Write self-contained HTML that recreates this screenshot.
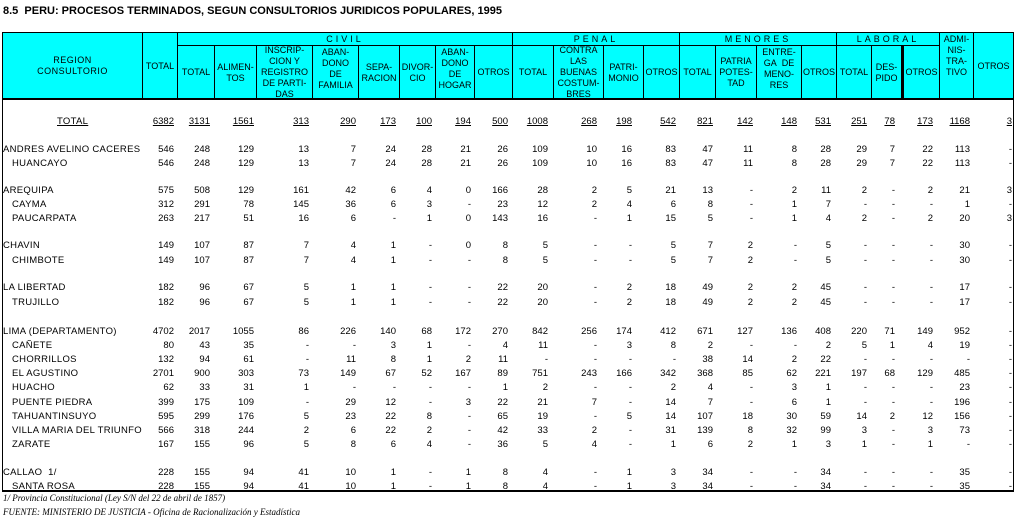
<!DOCTYPE html>
<html><head><meta charset="utf-8"><style>
*{margin:0;padding:0;box-sizing:border-box}
body{width:1014px;height:518px;background:#fff;position:relative;overflow:hidden;font-family:"Liberation Sans",sans-serif;font-size:9.5px;color:#000}
.t{position:absolute;left:3px;top:5px;font-weight:bold;font-size:11px}
.h{position:absolute;background:#0ff;border:1px solid #000;display:flex;align-items:center;justify-content:center;text-align:center;line-height:11px;font-size:9px;letter-spacing:0;white-space:nowrap}
.r{position:absolute;left:0;width:1014px;height:12px;line-height:12px}
.r b{position:absolute;left:3px;font-weight:normal;letter-spacing:.3px}
.r.s b{left:12px}
.g{position:absolute;left:140px;display:grid;grid-template-columns:34px 36px 44px 55px 47px 40px 36px 39px 37px 40px 49px 35px 44px 37px 40px 44px 34px 36px 28px 38px 37px 42px}
.g i{font-style:normal;text-align:right}
.u i,.u b{text-decoration:underline}
.f{position:absolute;left:3px;font-family:"Liberation Serif",serif;font-style:italic;font-size:9px}
</style></head><body>
<div class="t">8.5&nbsp; PERU: PROCESOS TERMINADOS, SEGUN CONSULTORIOS JURIDICOS POPULARES, 1995</div>
<div style="position:absolute;left:2px;top:32px;width:1012px;height:460px;border:1px solid #000;border-top:2px solid #000;border-bottom:2px solid #000"></div>
<div class="h" style="left:2px;top:32px;width:141px;height:68px;letter-spacing:.5px">REGION<br>CONSULTORIO</div>
<div class="h" style="left:142px;top:32px;width:36px;height:68px">TOTAL</div>
<div class="h" style="left:177px;top:32px;width:336px;height:14px;letter-spacing:3px">CIVIL</div>
<div class="h" style="left:512px;top:32px;width:168px;height:14px;letter-spacing:3px">PENAL</div>
<div class="h" style="left:679px;top:32px;width:158px;height:14px;letter-spacing:3px">MENORES</div>
<div class="h" style="left:836px;top:32px;width:104px;height:14px;letter-spacing:3px">LABORAL</div>
<div class="h" style="left:939px;top:32px;width:35px;height:68px;align-items:flex-start;padding-top:1px">ADMI-<br>NIS-<br>TRA-<br>TIVO</div>
<div class="h" style="left:973px;top:32px;width:41px;height:68px">OTROS</div>
<div class="h" style="left:177px;top:45px;width:38px;height:55px">TOTAL</div>
<div class="h" style="left:214px;top:45px;width:43px;height:55px">ALIMEN-<br>TOS</div>
<div class="h" style="left:256px;top:45px;width:57px;height:55px">INSCRIP-<br>CION Y<br>REGISTRO<br>DE PARTI-<br>DAS</div>
<div class="h" style="left:312px;top:45px;width:47px;height:55px;align-items:flex-start;padding-top:1px">ABAN-<br>DONO<br>DE<br>FAMILIA</div>
<div class="h" style="left:358px;top:45px;width:42px;height:55px">SEPA-<br>RACION</div>
<div class="h" style="left:399px;top:45px;width:37px;height:55px">DIVOR-<br>CIO</div>
<div class="h" style="left:435px;top:45px;width:40px;height:55px;align-items:flex-start;padding-top:1px">ABAN-<br>DONO<br>DE<br>HOGAR</div>
<div class="h" style="left:474px;top:45px;width:39px;height:55px">OTROS</div>
<div class="h" style="left:512px;top:45px;width:42px;height:55px">TOTAL</div>
<div class="h" style="left:553px;top:45px;width:51px;height:55px">CONTRA<br>LAS<br>BUENAS<br>COSTUM-<br>BRES</div>
<div class="h" style="left:603px;top:45px;width:41px;height:55px">PATRI-<br>MONIO</div>
<div class="h" style="left:643px;top:45px;width:37px;height:55px">OTROS</div>
<div class="h" style="left:679px;top:45px;width:37px;height:55px">TOTAL</div>
<div class="h" style="left:715px;top:45px;width:42px;height:55px">PATRIA<br>POTES-<br>TAD</div>
<div class="h" style="left:756px;top:45px;width:46px;height:55px;align-items:flex-start;padding-top:1px">ENTRE-<br>GA&nbsp;&nbsp;DE<br>MENO-<br>RES</div>
<div class="h" style="left:801px;top:45px;width:36px;height:55px">OTROS</div>
<div class="h" style="left:836px;top:45px;width:36px;height:55px">TOTAL</div>
<div class="h" style="left:871px;top:45px;width:33px;height:55px;border-right:3px solid #000">DES-<br>PIDO</div>
<div class="h" style="left:903px;top:45px;width:37px;height:55px">OTROS</div>
<div style="position:absolute;left:2px;top:98px;width:1012px;height:2px;background:#000"></div>

<div class="r u" style="top:116px"><b style="left:57px">TOTAL</b><div class="g"><i>6382</i><i>3131</i><i>1561</i><i>313</i><i>290</i><i>173</i><i>100</i><i>194</i><i>500</i><i>1008</i><i>268</i><i>198</i><i>542</i><i>821</i><i>142</i><i>148</i><i>531</i><i>251</i><i>78</i><i>173</i><i>1168</i><i>3</i></div></div>
<div class="r" style="top:144px"><b>ANDRES AVELINO CACERES</b><div class="g"><i>546</i><i>248</i><i>129</i><i>13</i><i>7</i><i>24</i><i>28</i><i>21</i><i>26</i><i>109</i><i>10</i><i>16</i><i>83</i><i>47</i><i>11</i><i>8</i><i>28</i><i>29</i><i>7</i><i>22</i><i>113</i><i>-</i></div></div>
<div class="r s" style="top:158px"><b>HUANCAYO</b><div class="g"><i>546</i><i>248</i><i>129</i><i>13</i><i>7</i><i>24</i><i>28</i><i>21</i><i>26</i><i>109</i><i>10</i><i>16</i><i>83</i><i>47</i><i>11</i><i>8</i><i>28</i><i>29</i><i>7</i><i>22</i><i>113</i><i>-</i></div></div>
<div class="r" style="top:185px"><b>AREQUIPA</b><div class="g"><i>575</i><i>508</i><i>129</i><i>161</i><i>42</i><i>6</i><i>4</i><i>0</i><i>166</i><i>28</i><i>2</i><i>5</i><i>21</i><i>13</i><i>-</i><i>2</i><i>11</i><i>2</i><i>-</i><i>2</i><i>21</i><i>3</i></div></div>
<div class="r s" style="top:199px"><b>CAYMA</b><div class="g"><i>312</i><i>291</i><i>78</i><i>145</i><i>36</i><i>6</i><i>3</i><i>-</i><i>23</i><i>12</i><i>2</i><i>4</i><i>6</i><i>8</i><i>-</i><i>1</i><i>7</i><i>-</i><i>-</i><i>-</i><i>1</i><i>-</i></div></div>
<div class="r s" style="top:213px"><b>PAUCARPATA</b><div class="g"><i>263</i><i>217</i><i>51</i><i>16</i><i>6</i><i>-</i><i>1</i><i>0</i><i>143</i><i>16</i><i>-</i><i>1</i><i>15</i><i>5</i><i>-</i><i>1</i><i>4</i><i>2</i><i>-</i><i>2</i><i>20</i><i>3</i></div></div>
<div class="r" style="top:240px"><b>CHAVIN</b><div class="g"><i>149</i><i>107</i><i>87</i><i>7</i><i>4</i><i>1</i><i>-</i><i>0</i><i>8</i><i>5</i><i>-</i><i>-</i><i>5</i><i>7</i><i>2</i><i>-</i><i>5</i><i>-</i><i>-</i><i>-</i><i>30</i><i>-</i></div></div>
<div class="r s" style="top:255px"><b>CHIMBOTE</b><div class="g"><i>149</i><i>107</i><i>87</i><i>7</i><i>4</i><i>1</i><i>-</i><i>-</i><i>8</i><i>5</i><i>-</i><i>-</i><i>5</i><i>7</i><i>2</i><i>-</i><i>5</i><i>-</i><i>-</i><i>-</i><i>30</i><i>-</i></div></div>
<div class="r" style="top:282px"><b>LA LIBERTAD</b><div class="g"><i>182</i><i>96</i><i>67</i><i>5</i><i>1</i><i>1</i><i>-</i><i>-</i><i>22</i><i>20</i><i>-</i><i>2</i><i>18</i><i>49</i><i>2</i><i>2</i><i>45</i><i>-</i><i>-</i><i>-</i><i>17</i><i>-</i></div></div>
<div class="r s" style="top:297px"><b>TRUJILLO</b><div class="g"><i>182</i><i>96</i><i>67</i><i>5</i><i>1</i><i>1</i><i>-</i><i>-</i><i>22</i><i>20</i><i>-</i><i>2</i><i>18</i><i>49</i><i>2</i><i>2</i><i>45</i><i>-</i><i>-</i><i>-</i><i>17</i><i>-</i></div></div>
<div class="r" style="top:326px"><b>LIMA (DEPARTAMENTO)</b><div class="g"><i>4702</i><i>2017</i><i>1055</i><i>86</i><i>226</i><i>140</i><i>68</i><i>172</i><i>270</i><i>842</i><i>256</i><i>174</i><i>412</i><i>671</i><i>127</i><i>136</i><i>408</i><i>220</i><i>71</i><i>149</i><i>952</i><i>-</i></div></div>
<div class="r s" style="top:340px"><b>CAÑETE</b><div class="g"><i>80</i><i>43</i><i>35</i><i>-</i><i>-</i><i>3</i><i>1</i><i>-</i><i>4</i><i>11</i><i>-</i><i>3</i><i>8</i><i>2</i><i>-</i><i>-</i><i>2</i><i>5</i><i>1</i><i>4</i><i>19</i><i>-</i></div></div>
<div class="r s" style="top:354px"><b>CHORRILLOS</b><div class="g"><i>132</i><i>94</i><i>61</i><i>-</i><i>11</i><i>8</i><i>1</i><i>2</i><i>11</i><i>-</i><i>-</i><i>-</i><i>-</i><i>38</i><i>14</i><i>2</i><i>22</i><i>-</i><i>-</i><i>-</i><i>-</i><i>-</i></div></div>
<div class="r s" style="top:368px"><b>EL AGUSTINO</b><div class="g"><i>2701</i><i>900</i><i>303</i><i>73</i><i>149</i><i>67</i><i>52</i><i>167</i><i>89</i><i>751</i><i>243</i><i>166</i><i>342</i><i>368</i><i>85</i><i>62</i><i>221</i><i>197</i><i>68</i><i>129</i><i>485</i><i>-</i></div></div>
<div class="r s" style="top:382px"><b>HUACHO</b><div class="g"><i>62</i><i>33</i><i>31</i><i>1</i><i>-</i><i>-</i><i>-</i><i>-</i><i>1</i><i>2</i><i>-</i><i>-</i><i>2</i><i>4</i><i>-</i><i>3</i><i>1</i><i>-</i><i>-</i><i>-</i><i>23</i><i>-</i></div></div>
<div class="r s" style="top:397px"><b>PUENTE PIEDRA</b><div class="g"><i>399</i><i>175</i><i>109</i><i>-</i><i>29</i><i>12</i><i>-</i><i>3</i><i>22</i><i>21</i><i>7</i><i>-</i><i>14</i><i>7</i><i>-</i><i>6</i><i>1</i><i>-</i><i>-</i><i>-</i><i>196</i><i>-</i></div></div>
<div class="r s" style="top:411px"><b>TAHUANTINSUYO</b><div class="g"><i>595</i><i>299</i><i>176</i><i>5</i><i>23</i><i>22</i><i>8</i><i>-</i><i>65</i><i>19</i><i>-</i><i>5</i><i>14</i><i>107</i><i>18</i><i>30</i><i>59</i><i>14</i><i>2</i><i>12</i><i>156</i><i>-</i></div></div>
<div class="r s" style="top:425px"><b>VILLA MARIA DEL TRIUNFO</b><div class="g"><i>566</i><i>318</i><i>244</i><i>2</i><i>6</i><i>22</i><i>2</i><i>-</i><i>42</i><i>33</i><i>2</i><i>-</i><i>31</i><i>139</i><i>8</i><i>32</i><i>99</i><i>3</i><i>-</i><i>3</i><i>73</i><i>-</i></div></div>
<div class="r s" style="top:439px"><b>ZARATE</b><div class="g"><i>167</i><i>155</i><i>96</i><i>5</i><i>8</i><i>6</i><i>4</i><i>-</i><i>36</i><i>5</i><i>4</i><i>-</i><i>1</i><i>6</i><i>2</i><i>1</i><i>3</i><i>1</i><i>-</i><i>1</i><i>-</i><i>-</i></div></div>
<div class="r" style="top:467px"><b>CALLAO&nbsp; 1/</b><div class="g"><i>228</i><i>155</i><i>94</i><i>41</i><i>10</i><i>1</i><i>-</i><i>1</i><i>8</i><i>4</i><i>-</i><i>1</i><i>3</i><i>34</i><i>-</i><i>-</i><i>34</i><i>-</i><i>-</i><i>-</i><i>35</i><i>-</i></div></div>
<div class="r s" style="top:481px"><b>SANTA ROSA</b><div class="g"><i>228</i><i>155</i><i>94</i><i>41</i><i>10</i><i>1</i><i>-</i><i>1</i><i>8</i><i>4</i><i>-</i><i>1</i><i>3</i><i>34</i><i>-</i><i>-</i><i>34</i><i>-</i><i>-</i><i>-</i><i>35</i><i>-</i></div></div>
<div class="f" style="top:493px">1/ Provincia Constitucional (Ley S/N del 22 de abril de 1857)</div>
<div class="f" style="top:507px">FUENTE: MINISTERIO DE JUSTICIA - Oficina de Racionalización y Estadística</div>
</body></html>
